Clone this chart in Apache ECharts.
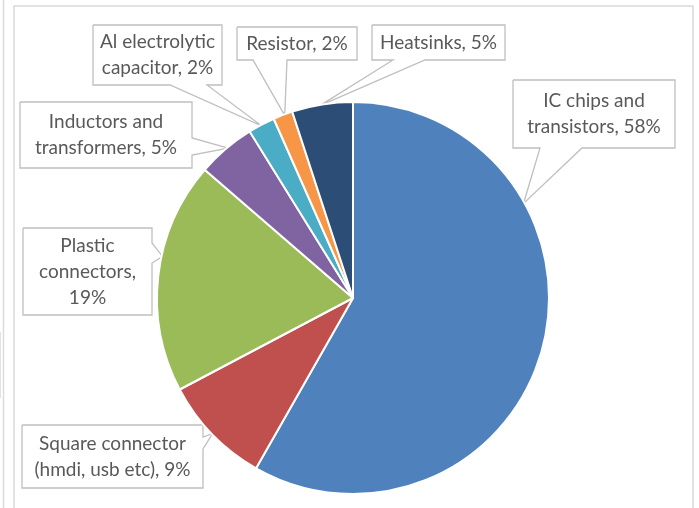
<!DOCTYPE html>
<html>
<head>
<meta charset="utf-8">
<script src="https://cdn.jsdelivr.net/npm/echarts@6/dist/echarts.min.js"></script>
<style>
  html, body { margin: 0; padding: 0; background: #fff; }
  #chart { width: 699px; height: 508px; }
</style>
</head>
<body>
<div id="chart"></div>
<script>
// Component categories, clockwise from 12 o'clock
const categories = [
  'IC chips and transistors',
  'Square connector (hmdi, usb etc)',
  'Plastic connectors',
  'Inductors and transformers',
  'Al electrolytic capacitor',
  'Resistor',
  'Heatsinks'
];

// Share of each category (percent)
const shares = [58, 9, 19, 4.8, 2.2, 1.6, 5];

// Wrapped label text; {d} is filled with the rounded percentage
const labelTexts = [
  'IC chips and\ntransistors, {d}%',
  'Square connector\n(hmdi, usb etc), {d}%',
  'Plastic\nconnectors,\n{d}%',
  'Inductors and\ntransformers, {d}%',
  'Al electrolytic\ncapacitor, {d}%',
  'Resistor, {d}%',
  'Heatsinks, {d}%'
];

const colors = ['#4F81BD', '#C0504D', '#9BBB59', '#8064A2', '#4BACC6', '#F79646', '#2C4D75'];

// Pie geometry (pixels)
const CX = 353, CY = 298, R = 196;

// Callout boxes: [left, top, right, bottom], which side the pointer leaves from,
// the pointer base along that side, and the angle (deg, clockwise from top) it points at
const callouts = [
  { box: [513, 80, 675, 148], side: 'bottom', base: [540, 582], angle: 61 },
  { box: [22, 425, 203, 488], side: 'right', base: [437, 449], angle: 226 },
  { box: [23, 228, 152, 315], side: 'right', base: [243, 263], angle: 282.3 },
  { box: [20, 102, 192, 168], side: 'right', base: [138, 155], angle: 320.2 },
  { box: [93, 25, 222, 85], side: 'bottom', base: [170, 207], angle: 332 },
  { box: [237, 27, 357, 60], side: 'bottom', base: [253, 287], angle: 339.5 },
  { box: [372, 25, 505, 60], side: 'bottom', base: [393, 425], angle: 350.1 }
];

function tipPoint(angleDeg) {
  const a = angleDeg * Math.PI / 180;
  return [CX + (R - 1) * Math.sin(a), CY - (R - 1) * Math.cos(a)];
}

function outline(c) {
  const [l, t, r, b] = c.box;
  const tip = tipPoint(c.angle);
  if (c.side === 'bottom') {
    return [[l, t], [r, t], [r, b], [c.base[1], b], tip, [c.base[0], b], [l, b], [l, t]];
  }
  return [[l, t], [r, t], [r, c.base[0]], tip, [r, c.base[1]], [r, b], [l, b], [l, t]];
}

const chart = echarts.init(document.getElementById('chart'), null, { renderer: 'canvas' });

chart.setOption({
  backgroundColor: '#ffffff',
  animation: false,
  color: colors,
  graphic: [
    { type: 'rect', shape: { x: 14, y: 6, width: 679, height: 520 },
      style: { fill: 'none', stroke: '#D9D9D9', lineWidth: 1.5 }, silent: true },
    { type: 'line', shape: { x1: 3.5, y1: 0, x2: 3.5, y2: 508 },
      style: { stroke: '#DCDCDC', lineWidth: 1.5 }, silent: true },
    { type: 'line', shape: { x1: 0.5, y1: 332, x2: 0.5, y2: 398 },
      style: { stroke: '#E2E2E2', lineWidth: 1 }, silent: true }
  ],
  series: [{
    type: 'pie',
    center: [CX, CY],
    radius: R,
    startAngle: 90,
    clockwise: true,
    percentPrecision: 0,
    avoidLabelOverlap: false,
    itemStyle: { borderColor: '#ffffff', borderWidth: 2 },
    label: {
      show: true,
      position: 'outside',
      color: '#595959',
      fontFamily: 'Lato',
      fontSize: 19,
      lineHeight: 26,
      align: 'center'
    },
    labelLine: {
      show: true,
      length: 10,
      length2: 10,
      lineStyle: { color: '#BFBFBF', width: 1.3 }
    },
    labelLayout: function (params) {
      const c = callouts[params.dataIndex];
      return {
        x: (c.box[0] + c.box[2]) / 2,
        y: (c.box[1] + c.box[3]) / 2,
        align: 'center',
        verticalAlign: 'middle',
        labelLinePoints: outline(c)
      };
    },
    data: categories.map((name, i) => ({
      name: name,
      value: shares[i],
      label: { formatter: labelTexts[i] }
    }))
  }]
});
</script>
</body>
</html>
